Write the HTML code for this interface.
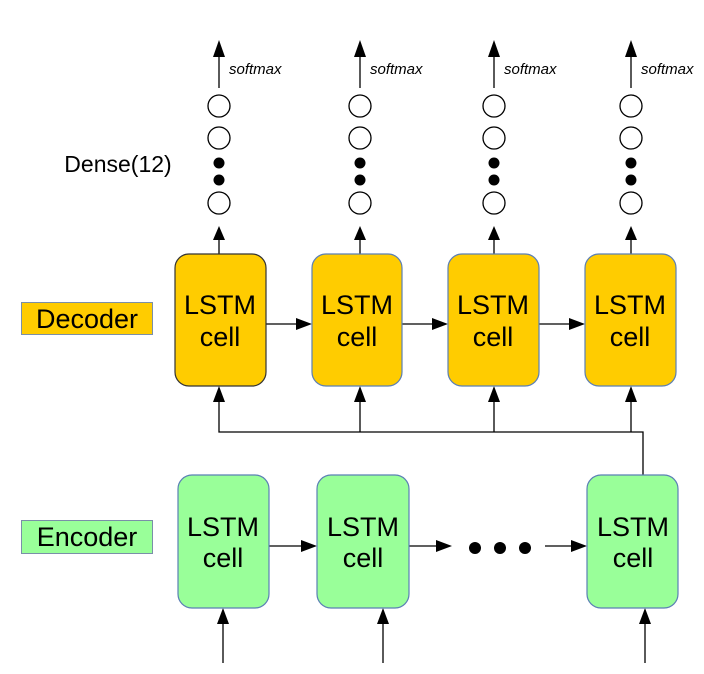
<!DOCTYPE html>
<html><head><meta charset="utf-8"><style>
html,body{margin:0;padding:0;background:#fff;}
svg{display:block;}
text{font-family:"Liberation Sans",sans-serif;}
</style></head><body>
<svg width="704" height="674" viewBox="0 0 704 674" xmlns="http://www.w3.org/2000/svg">
<g stroke="#000" stroke-width="1.3" fill="none">
  <line x1="219" y1="55" x2="219" y2="88"/><line x1="360" y1="55" x2="360" y2="88"/>
  <line x1="494" y1="55" x2="494" y2="88"/><line x1="631" y1="55" x2="631" y2="88"/>
  <circle cx="219" cy="106" r="11"/><circle cx="219" cy="138" r="11"/><circle cx="219" cy="203" r="11"/>
  <circle cx="360" cy="106" r="11"/><circle cx="360" cy="138" r="11"/><circle cx="360" cy="203" r="11"/>
  <circle cx="494" cy="106" r="11"/><circle cx="494" cy="138" r="11"/><circle cx="494" cy="203" r="11"/>
  <circle cx="631" cy="106" r="11"/><circle cx="631" cy="138" r="11"/><circle cx="631" cy="203" r="11"/>
  <line x1="219" y1="238" x2="219" y2="254"/><line x1="360" y1="238" x2="360" y2="254"/>
  <line x1="494" y1="238" x2="494" y2="254"/><line x1="631" y1="238" x2="631" y2="254"/>
  <polyline points="219,400 219,432 643,432 643,476"/>
  <line x1="360" y1="400" x2="360" y2="432"/><line x1="494" y1="400" x2="494" y2="432"/><line x1="631" y1="400" x2="631" y2="432"/>
  <line x1="266" y1="324" x2="298" y2="324"/><line x1="402" y1="324" x2="434" y2="324"/><line x1="539" y1="324" x2="571" y2="324"/>
  <line x1="269" y1="546" x2="303" y2="546"/><line x1="409" y1="546" x2="438" y2="546"/><line x1="545" y1="546" x2="573" y2="546"/>
  <line x1="223" y1="663" x2="223" y2="622"/><line x1="383" y1="663" x2="383" y2="622"/><line x1="645" y1="663" x2="645" y2="622"/>
</g>
<g fill="#000">
  <circle cx="219" cy="163" r="5.5"/><circle cx="219" cy="180" r="5.5"/>
  <circle cx="360" cy="163" r="5.5"/><circle cx="360" cy="180" r="5.5"/>
  <circle cx="494" cy="163" r="5.5"/><circle cx="494" cy="180" r="5.5"/>
  <circle cx="631" cy="163" r="5.5"/><circle cx="631" cy="180" r="5.5"/>
  <circle cx="475" cy="548" r="6"/><circle cx="500" cy="548" r="6"/><circle cx="525" cy="548" r="6"/>
  <polygon points="219,40 213,57 225,57"/><polygon points="360,40 354,57 366,57"/>
  <polygon points="494,40 488,57 500,57"/><polygon points="631,40 625,57 637,57"/>
  <polygon points="219,226 213,240 225,240"/><polygon points="360,226 354,240 366,240"/>
  <polygon points="494,226 488,240 500,240"/><polygon points="631,226 625,240 637,240"/>
  <polygon points="219,386 213,402 225,402"/><polygon points="360,386 354,402 366,402"/>
  <polygon points="494,386 488,402 500,402"/><polygon points="631,386 625,402 637,402"/>
  <polygon points="312,324 296,318 296,330"/><polygon points="448,324 432,318 432,330"/><polygon points="585,324 569,318 569,330"/>
  <polygon points="317,546 301,540 301,552"/><polygon points="452,546 436,540 436,552"/><polygon points="587,546 571,540 571,552"/>
  <polygon points="223,608 217,624 229,624"/><polygon points="383,608 377,624 389,624"/><polygon points="645,608 639,624 651,624"/>
</g>
<g fill="#ffcc00" stroke-width="1.2">
  <rect x="175" y="254" width="91" height="132" rx="14" stroke="#333"/>
  <rect x="312" y="254" width="90" height="132" rx="14" stroke="#5b7fb5"/>
  <rect x="448" y="254" width="91" height="132" rx="14" stroke="#5b7fb5"/>
  <rect x="585" y="254" width="91" height="132" rx="14" stroke="#5b7fb5"/>
</g>
<g fill="#99ff99" stroke="#5b7fb5" stroke-width="1.2">
  <rect x="178" y="475" width="91" height="133" rx="14"/>
  <rect x="317" y="475" width="92" height="133" rx="14"/>
  <rect x="587" y="475" width="91" height="133" rx="14"/>
</g>
<rect x="21.5" y="302.5" width="131" height="32" fill="#ffcc00" stroke="#7a8fa8" stroke-width="1"/>
<rect x="21.5" y="520.5" width="131" height="33" fill="#99ff99" stroke="#7a8fa8" stroke-width="1"/>
<g font-size="27" text-anchor="middle" fill="#000">
  <text x="220" y="314">LSTM</text><text x="220" y="346">cell</text>
  <text x="357" y="314">LSTM</text><text x="357" y="346">cell</text>
  <text x="493" y="314">LSTM</text><text x="493" y="346">cell</text>
  <text x="630" y="314">LSTM</text><text x="630" y="346">cell</text>
  <text x="223" y="536">LSTM</text><text x="223" y="567">cell</text>
  <text x="363" y="536">LSTM</text><text x="363" y="567">cell</text>
  <text x="633" y="536">LSTM</text><text x="633" y="567">cell</text>
  <text x="87" y="328">Decoder</text>
  <text x="87" y="546">Encoder</text>
  <text x="118" y="172" font-size="23">Dense(12)</text>
</g>
<g font-size="15" font-style="italic" fill="#000">
  <text x="229" y="74">softmax</text><text x="370" y="74">softmax</text>
  <text x="504" y="74">softmax</text><text x="641" y="74">softmax</text>
</g>
</svg>
</body></html>
